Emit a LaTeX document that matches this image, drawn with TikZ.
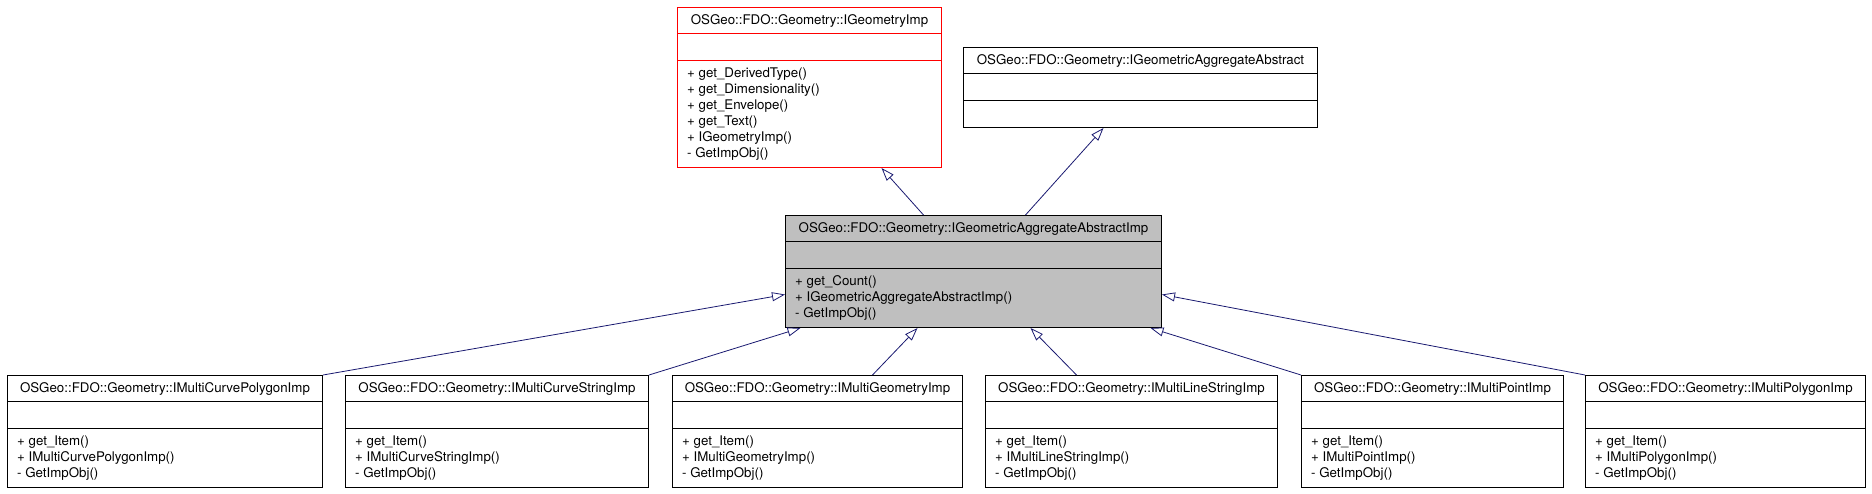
\documentclass[tikz,border=0pt]{standalone}
\usepackage{fontspec}
\setmainfont{TeX Gyre Heros}
\usetikzlibrary{arrows.meta}
\definecolor{edgeblue}{RGB}{25,25,112}
\definecolor{boxgray}{RGB}{191,191,191}
\begin{document}
\begin{tikzpicture}[x=1pt,y=-1pt,font=\fontsize{13.3}{16}\selectfont,
  classbox/.style={draw,line width=1pt,anchor=north west,inner sep=0pt,minimum height=112pt},
  classtitle/.style={anchor=base,inner sep=0pt},
  members/.style={anchor=base west,inner sep=0pt},
  inherit/.style={draw=edgeblue,line width=0.8pt,-{Triangle[open,length=13pt,width=9pt]}}]
\useasboundingbox (0,0) rectangle (1872,493);
\node[classbox,draw=red,minimum width=264pt,minimum height=160pt] (geomimp) at (677,7) {};
\draw[red,line width=1pt] ([yshift=-26pt]geomimp.north west) -- ([yshift=-26pt]geomimp.north east);
\draw[red,line width=1pt] ([yshift=-53pt]geomimp.north west) -- ([yshift=-53pt]geomimp.north east);
\node[classtitle] at ([yshift=-17.5pt]geomimp.north) {OSGeo::FDO::Geometry::IGeometryImp};
\foreach \t [count=\i] in {+ get\_DerivedType(),+ get\_Dimensionality(),+ get\_Envelope(),+ get\_Text(),+ IGeometryImp(),- GetImpObj()}
  \node[members] at ([xshift=10pt,yshift={-54.5pt-16pt*\i}]geomimp.north west) {\t};
\node[classbox,minimum width=354pt,minimum height=80pt] (aggabs) at (963,47) {};
\draw[line width=1pt] ([yshift=-26pt]aggabs.north west) -- ([yshift=-26pt]aggabs.north east);
\draw[line width=1pt] ([yshift=-53pt]aggabs.north west) -- ([yshift=-53pt]aggabs.north east);
\node[classtitle] at ([yshift=-17.5pt]aggabs.north) {OSGeo::FDO::Geometry::IGeometricAggregateAbstract};
\node[classbox,fill=boxgray,minimum width=376pt] (aggimp) at (785,215) {};
\draw[line width=1pt] ([yshift=-26pt]aggimp.north west) -- ([yshift=-26pt]aggimp.north east);
\draw[line width=1pt] ([yshift=-53pt]aggimp.north west) -- ([yshift=-53pt]aggimp.north east);
\node[classtitle] at ([yshift=-17.5pt]aggimp.north) {OSGeo::FDO::Geometry::IGeometricAggregateAbstractImp};
\foreach \t [count=\i] in {+ get\_Count(),+ IGeometricAggregateAbstractImp(),- GetImpObj()}
  \node[members] at ([xshift=10pt,yshift={-54.5pt-16pt*\i}]aggimp.north west) {\t};
\foreach \n/\x/\w/\c in {mcpoly/7/315/IMultiCurvePolygonImp,mcstring/345/303/IMultiCurveStringImp,
  mgeom/672/290/IMultiGeometryImp,mline/985/292/IMultiLineStringImp,
  mpoint/1301/262/IMultiPointImp,mpoly/1585/280/IMultiPolygonImp}{
  \node[classbox,minimum width=\w pt] (\n) at (\x,375) {};
  \draw[line width=1pt] ([yshift=-26pt]\n.north west) -- ([yshift=-26pt]\n.north east);
  \draw[line width=1pt] ([yshift=-53pt]\n.north west) -- ([yshift=-53pt]\n.north east);
  \node[classtitle] at ([yshift=-17.5pt]\n.north) {OSGeo::FDO::Geometry::\c};
  \node[members] at ([xshift=10pt,yshift=-70.5pt]\n.north west) {+ get\_Item()};
  \node[members] at ([xshift=10pt,yshift=-86.5pt]\n.north west) {+ \c()};
  \node[members] at ([xshift=10pt,yshift=-102.5pt]\n.north west) {- GetImpObj()};
}
\draw[inherit] ([xshift=-50pt]aggimp.north) -- ([xshift=72pt]geomimp.south);
\draw[inherit] ([xshift=52pt]aggimp.north) -- ([xshift=-37pt]aggabs.south);
\draw[inherit] (mcpoly.north east) -- ([yshift=-23pt]aggimp.west);
\draw[inherit] (mcstring.north east) -- ([xshift=-173pt]aggimp.south);
\draw[inherit] ([xshift=55pt]mgeom.north) -- ([xshift=-56pt]aggimp.south);
\draw[inherit] ([xshift=-55pt]mline.north) -- ([xshift=57pt]aggimp.south);
\draw[inherit] (mpoint.north west) -- ([xshift=177pt]aggimp.south);
\draw[inherit] (mpoly.north west) -- ([yshift=-23pt]aggimp.east);
\end{tikzpicture}
\end{document}
